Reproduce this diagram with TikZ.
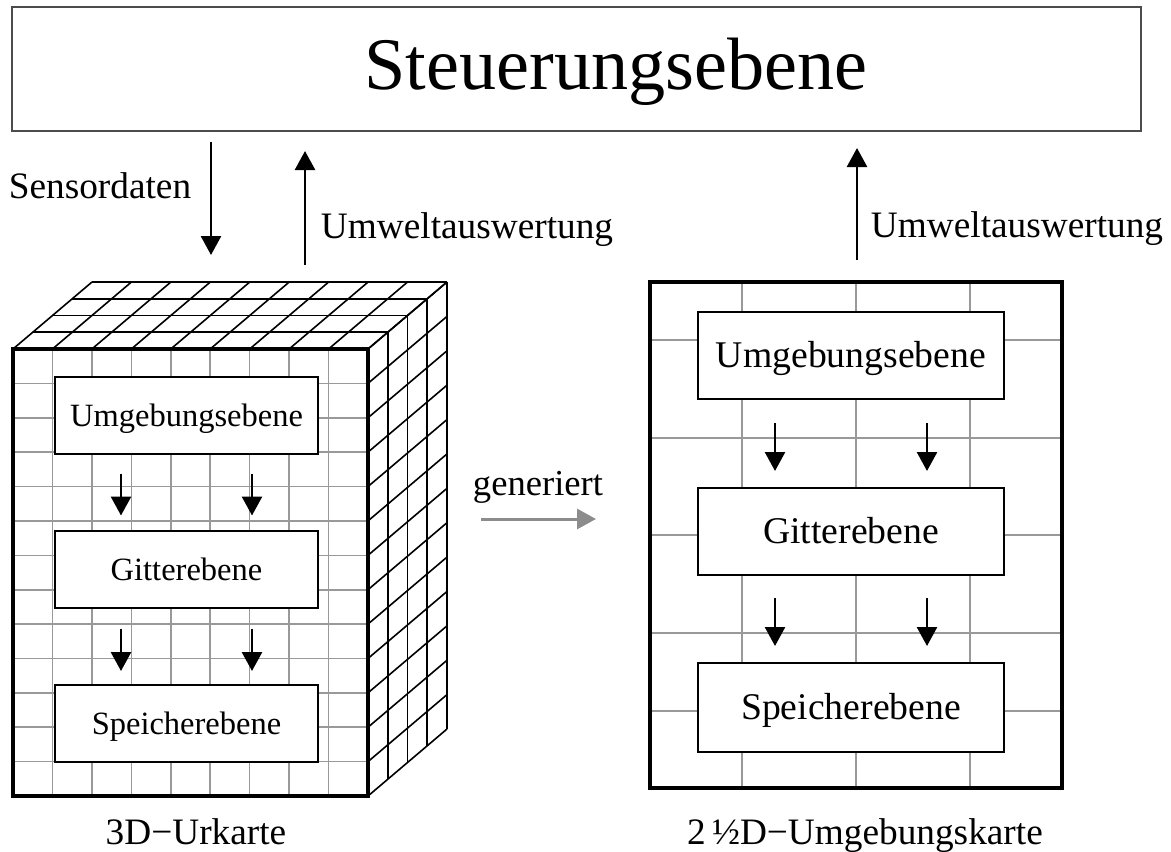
\documentclass[tikz,border=0pt]{standalone}
\usepackage{fontspec}
\setmainfont{Liberation Serif}
\usetikzlibrary{arrows.meta,calc}
\definecolor{gridgray}{gray}{0.6}
\definecolor{framegray}{gray}{0.3}
\definecolor{arrowgray}{gray}{0.55}
\begin{document}
\begin{tikzpicture}[x=0.5pt,y=-0.5pt,
  gridline/.style={gridgray, line width=0.8pt},
  cubeline/.style={black, line width=0.8pt},
  frameline/.style={black, line width=1.6pt},
  layerbox/.style={draw, fill=white, line width=1pt, inner sep=0pt, text depth=0pt},
  smallbox/.style={layerbox, minimum width=131.5pt, minimum height=38.5pt, text height=11.4pt, font=\fontsize{16.25}{19}\selectfont},
  bigbox/.style={layerbox, minimum width=153pt, minimum height=43.5pt, text height=12.4pt, font=\fontsize{18.85}{22}\selectfont},
  label/.style={font=\fontsize{18.65}{22}\selectfont, inner sep=0pt, anchor=base},
  flow/.style={-{Triangle[length=9.5pt,width=10pt]}, line width=1.3pt},
]
\useasboundingbox (0,0) rectangle (1171,851);

% control layer on top
\node[draw=framegray, line width=1pt, minimum width=564.5pt, minimum height=62pt, inner sep=0pt] (top) at (576.5,69) {};
\node[font=\fontsize{37.1}{44}\selectfont, inner sep=0pt, anchor=base] (title) at (616,89) {Steuerungsebene};

% ---- 3D raw map: cube with grid ----
% front face grid
\foreach \i in {1,...,8}
  \draw[gridline] ({13+\i*355/9},349) -- ({13+\i*355/9},796);
\foreach \j in {1,...,12}
  \draw[gridline] (13,{349+\j*447/13}) -- (368,{349+\j*447/13});
% top face
\foreach \k in {1,...,4}
  \draw[cubeline] ({13+\k*79/4},{349-\k*67/4}) -- ({368+\k*79/4},{349-\k*67/4});
\foreach \i in {0,...,9}
  \draw[cubeline] ({13+\i*355/9},349) -- ++(79,-67);
% right face
\foreach \k in {1,...,4}
  \draw[cubeline] ({368+\k*79/4},{349-\k*67/4}) -- ++(0,447);
\foreach \j in {0,...,13}
  \draw[cubeline] (368,{349+\j*447/13}) -- ++(79,-67);
% front outline
\draw[frameline] (13,349) rectangle (368,796);

% layers inside the cube
\node[smallbox] (lu) at (186.5,415.5) {Umgebungsebene};
\node[smallbox] (lg) at (186.5,569) {Gitterebene};
\node[smallbox] (ls) at (186.5,723.5) {Speicherebene};
\foreach \dx in {-65.5,65.5} {
  \draw[flow, shorten <=9.5pt, shorten >=7pt] ($(lu.south)+(\dx,0)$) -- ($(lg.north)+(\dx,0)$);
  \draw[flow, shorten <=10pt, shorten >=6.5pt] ($(lg.south)+(\dx,0)$) -- ($(ls.north)+(\dx,0)$);
}

% ---- 2.5D map ----
\foreach \x in {742,856,970}
  \draw[gridline] (\x,282) -- (\x,788);
\foreach \y in {340,438,535,633,711}
  \draw[gridline] (650,\y) -- (1062,\y);
\draw[frameline] (650,282) rectangle (1062,788);

\node[bigbox] (ru) at (851,355.5) {Umgebungsebene};
\node[bigbox] (rg) at (851,531.5) {Gitterebene};
\node[bigbox, minimum height=44.5pt] (rs) at (851,707.5) {Speicherebene};
\foreach \dx in {-76,76} {
  \draw[flow, shorten <=11.5pt, shorten >=8pt] ($(ru.south)+(\dx,0)$) -- ($(rg.north)+(\dx,0)$);
  \draw[flow, shorten <=11pt, shorten >=8pt] ($(rg.south)+(\dx,0)$) -- ($(rs.north)+(\dx,0)$);
}

% ---- connections to the control layer ----
\coordinate (cubein) at (211,282);
\coordinate (cubeout) at (305,282);
\coordinate (mapout) at (857,282);
\draw[flow, shorten <=5pt, shorten >=13.5pt] (top.south -| cubein) -- (cubein);
\draw[flow, shorten <=8.5pt, shorten >=9.5pt] (cubeout) -- (top.south -| cubeout);
\draw[flow, shorten <=11pt, shorten >=8pt] (mapout) -- (top.south -| mapout);
\node[label] (sens) at (100,198) {Sensordaten};
\node[label] (eval1) at (467,238) {Umweltauswertung};
\node[label] (eval2) at (1017,237) {Umweltauswertung};

% generation arrow
\node[label, font=\fontsize{18.3}{22}\selectfont] (gen) at (538,495) {generiert};
\coordinate (g1) at (481,519);
\coordinate (g2) at (596,519);
\draw[flow, arrowgray, line width=1.5pt] (g1) -- (g2);

% captions
\node[label] (cap3d) at (196,844) {3D−Urkarte};
\node[label] (cap2d) at (865,844) {2\,½D−Umgebungskarte};
\end{tikzpicture}
\end{document}
